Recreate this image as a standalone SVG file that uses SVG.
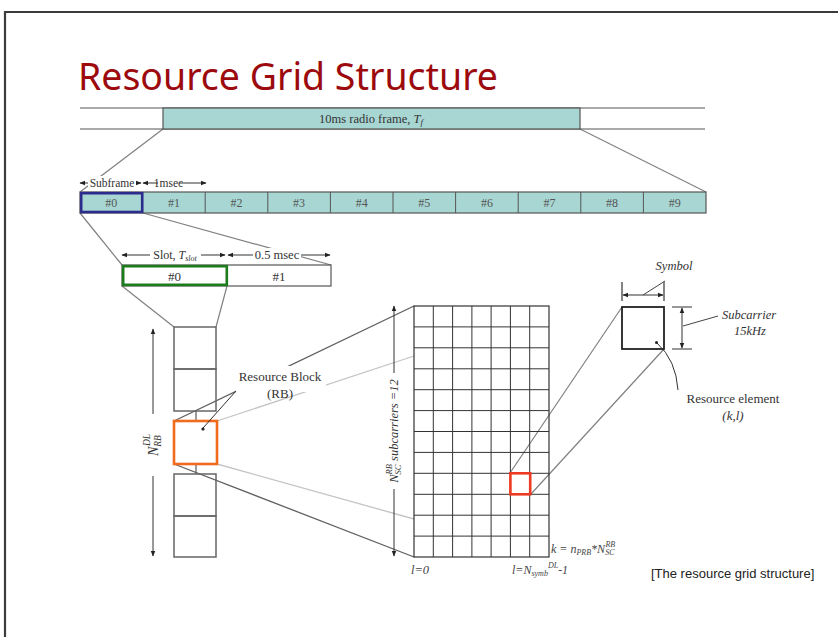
<svg xmlns="http://www.w3.org/2000/svg" width="838" height="637" viewBox="0 0 838 637">
  <style>
    .ser { font-family: "Liberation Serif", "Times New Roman", serif; }
    .it { font-style: italic; }
    .lbl { font-size: 12.5px; fill: #333; }
    .cell { font-size: 12px; fill: #555; text-anchor: middle; }
    .box { fill: none; stroke: #666; stroke-width: 1.5; }
    .con { fill: none; stroke: #808080; stroke-width: 1.2; }
    .conDark { fill: none; stroke: #606060; stroke-width: 1.3; }
    .conLight { fill: none; stroke: #c4c4c4; stroke-width: 1.3; }
    .dim { fill: none; stroke: #333; stroke-width: 1; }
    .tick { fill: none; stroke: #333; stroke-width: 1.2; }
  </style>
  <defs>
    <marker id="ah" viewBox="0 0 10 10" refX="9" refY="5" markerWidth="6" markerHeight="6" markerUnits="userSpaceOnUse" orient="auto-start-reverse">
      <path d="M0,1 L10,5 L0,9 Z" fill="#222"/>
    </marker>
  </defs>

  <rect width="838" height="637" fill="#fff"/>

  <!-- slide frame -->
  <path d="M5,640 L5,12 L840,12" fill="none" stroke="#3c3c3c" stroke-width="2.2"/>

  <!-- title -->
  <text x="78" y="90" font-family="'Noto Sans', 'Open Sans', sans-serif" font-size="39" fill="#9c0a0e" textLength="420" lengthAdjust="spacingAndGlyphs">Resource Grid Structure</text>

  <!-- connectors -->
  <g id="connectors">
    <line class="con" x1="163" y1="129" x2="80" y2="192"/>
    <line class="con" x1="580" y1="129" x2="706" y2="192"/>
    <line class="con" x1="80" y1="213" x2="122" y2="265"/>
    <line class="con" x1="143" y1="213" x2="331" y2="265"/>
    <line class="con" x1="122" y1="286" x2="174" y2="327"/>
    <line class="con" x1="227" y1="286" x2="216" y2="327"/>
    <line class="conDark" x1="174" y1="421" x2="414" y2="306"/>
    <line class="conLight" x1="217" y1="421" x2="414" y2="356"/>
    <line class="conDark" x1="174" y1="464" x2="414" y2="557"/>
    <line class="conLight" x1="217" y1="464" x2="414" y2="519"/>
    <line class="con" x1="510" y1="473" x2="622" y2="307"/>
    <line class="con" x1="531" y1="494" x2="664" y2="349"/>
  </g>

  <!-- radio frame -->
  <g id="radio-frame">
    <line x1="80" y1="108" x2="705" y2="108" stroke="#555" stroke-width="1.2"/>
    <line x1="80" y1="129" x2="705" y2="129" stroke="#555" stroke-width="1.2"/>
    <rect x="163" y="108" width="417" height="21" fill="#a8d6d3" stroke="#555" stroke-width="1.2"/>
    <text class="ser lbl" x="371" y="123" text-anchor="middle">10ms radio frame, <tspan class="it">T</tspan><tspan class="it" font-size="9" dy="2">f</tspan></text>
  </g>

  <!-- subframe dimension -->
  <g id="subframe-dim">
    <line class="dim" x1="80" y1="183" x2="141" y2="183" marker-start="url(#ah)" marker-end="url(#ah)"/>
    <line class="dim" x1="143" y1="183" x2="206" y2="183" marker-start="url(#ah)" marker-end="url(#ah)"/>
    <rect x="88" y="176" width="48" height="12" fill="#fff"/>
    <rect x="158" y="176" width="21" height="12" fill="#fff"/>
    <text class="ser" x="112" y="187" font-size="11.5" fill="#333" text-anchor="middle">Subframe</text>
    <text class="ser" x="168.5" y="187" font-size="11.5" fill="#333" text-anchor="middle">1msec</text>
  </g>

  <!-- subframes -->
  <g id="subframes">
    <rect x="80" y="192" width="626" height="21" fill="#a8d6d3" stroke="#555" stroke-width="1.2"/>
    <path d="M142.6,192V213 M205.2,192V213 M267.8,192V213 M330.4,192V213 M393,192V213 M455.6,192V213 M518.2,192V213 M580.8,192V213 M643.4,192V213" stroke="#555" stroke-width="1"/>
    <rect x="81.2" y="193.2" width="61" height="18.8" fill="none" stroke="#2c2c8c" stroke-width="2.6"/>
    <text class="ser cell" x="111.3" y="207">#0</text>
    <text class="ser cell" x="173.9" y="207">#1</text>
    <text class="ser cell" x="236.5" y="207">#2</text>
    <text class="ser cell" x="299.1" y="207">#3</text>
    <text class="ser cell" x="361.7" y="207">#4</text>
    <text class="ser cell" x="424.3" y="207">#5</text>
    <text class="ser cell" x="486.9" y="207">#6</text>
    <text class="ser cell" x="549.5" y="207">#7</text>
    <text class="ser cell" x="612.1" y="207">#8</text>
    <text class="ser cell" x="674.7" y="207">#9</text>
  </g>

  <!-- slot dimension -->
  <g id="slot-dim">
    <line class="dim" x1="122" y1="255" x2="225" y2="255" marker-start="url(#ah)" marker-end="url(#ah)"/>
    <line class="dim" x1="228" y1="255" x2="330" y2="255" marker-start="url(#ah)" marker-end="url(#ah)"/>
    <rect x="150" y="248" width="51" height="13" fill="#fff"/>
    <rect x="253" y="248" width="48" height="12" fill="#fff"/>
    <text class="ser" x="175" y="259" font-size="12" fill="#333" text-anchor="middle">Slot, <tspan class="it">T</tspan><tspan class="it" font-size="8" dy="2">slot</tspan></text>
    <text class="ser" x="277" y="259" font-size="12.5" fill="#333" text-anchor="middle">0.5 msec</text>
  </g>

  <!-- slots -->
  <g id="slots">
    <rect x="122" y="265" width="209" height="21" fill="#fff" stroke="#555" stroke-width="1.2"/>
    <line x1="227" y1="265" x2="227" y2="286" stroke="#555" stroke-width="1"/>
    <rect x="123.2" y="266.2" width="103.6" height="18.6" fill="none" stroke="#1c7c1c" stroke-width="2.6"/>
    <text class="ser" x="174.5" y="281" font-size="13" fill="#333" text-anchor="middle">#0</text>
    <text class="ser" x="279" y="281" font-size="13" fill="#333" text-anchor="middle">#1</text>
  </g>

  <!-- resource block column -->
  <g id="rb-column">
    <rect class="box" x="174" y="327" width="42" height="42"/>
    <rect class="box" x="174" y="369" width="42" height="42"/>
    <line x1="196" y1="411" x2="196" y2="421" stroke="#666" stroke-width="1.3"/>
    <line x1="196" y1="464" x2="196" y2="474" stroke="#666" stroke-width="1.3"/>
    <rect class="box" x="174" y="474" width="42" height="42"/>
    <rect class="box" x="174" y="516" width="42" height="41"/>
    <rect x="174" y="421" width="43" height="43" fill="none" stroke="#f26a1b" stroke-width="2.6"/>
  </g>

  <!-- N_RB^DL dimension -->
  <g id="nrb-dim">
    <line class="dim" x1="153" y1="329" x2="153" y2="556" marker-start="url(#ah)" marker-end="url(#ah)"/>
    <rect x="146" y="414" width="15" height="62" fill="#fff"/>
    <text class="ser it" transform="translate(158,445) rotate(-90)" font-size="14" fill="#333" text-anchor="middle">N<tspan font-size="9.5" dy="3">RB</tspan><tspan font-size="9.5" dx="-11" dy="-11">DL</tspan></text>
  </g>

  <!-- resource block label -->
  <g id="rb-label">
    <rect x="236" y="366" width="90" height="26" fill="#fff"/>
    <text class="ser" x="280" y="381" font-size="13" fill="#333" text-anchor="middle">Resource Block</text>
    <text class="ser" x="280" y="398" font-size="13" fill="#333" text-anchor="middle">(RB)</text>
    <line x1="236" y1="391" x2="203" y2="428" stroke="#333" stroke-width="1"/>
    <circle cx="203" cy="429" r="1.6" fill="#222"/>
  </g>

  <!-- resource grid -->
  <g id="resource-grid">
    <rect x="414" y="306" width="135" height="251" fill="none" stroke="#333" stroke-width="1.2"/>
    <path d="M433.3,306V557 M452.6,306V557 M471.9,306V557 M491.1,306V557 M510.4,306V557 M529.7,306V557
             M414,326.9H549 M414,347.8H549 M414,368.8H549 M414,389.7H549 M414,410.6H549 M414,431.5H549
             M414,452.4H549 M414,473.3H549 M414,494.3H549 M414,515.2H549 M414,536.1H549"
          stroke="#333" stroke-width="1" fill="none"/>
    <rect x="510.4" y="473.3" width="19.8" height="21" fill="none" stroke="#ee3a22" stroke-width="2.6"/>
  </g>

  <!-- N_SC^RB dimension -->
  <g id="nsc-dim">
    <line class="dim" x1="394" y1="306" x2="394" y2="556" marker-start="url(#ah)" marker-end="url(#ah)"/>
    <rect x="387" y="373" width="14" height="116" fill="#fff"/>
    <text class="ser it" transform="translate(398,431) rotate(-90)" font-size="12.5" fill="#333" text-anchor="middle">N<tspan font-size="8.5" dy="3">SC</tspan><tspan font-size="8.5" dx="-10" dy="-9">RB</tspan><tspan dy="6"> subcarriers =12</tspan></text>
  </g>

  <!-- grid axis labels -->
  <g id="grid-labels">
    <text class="ser it" x="420" y="574" font-size="12.5" fill="#444" text-anchor="middle">l=0</text>
    <text class="ser it" x="512" y="574" font-size="12" fill="#444">l=N<tspan font-size="8" dy="2">symb</tspan><tspan font-size="8" dy="-8">DL</tspan><tspan dy="6">-1</tspan></text>
    <text class="ser it" x="551" y="553" font-size="12" fill="#444">k = n<tspan font-size="8" dy="2">PRB</tspan><tspan dy="-2">*N</tspan><tspan font-size="8" dy="2">SC</tspan><tspan font-size="8" dx="-9" dy="-8">RB</tspan></text>
  </g>

  <!-- resource element detail -->
  <g id="resource-element">
    <rect x="622" y="307" width="42" height="42" fill="none" stroke="#222" stroke-width="1.8"/>
    <path class="tick" d="M622,282V301 M664,282V301"/>
    <line class="dim" x1="623" y1="295" x2="663" y2="295" marker-start="url(#ah)" marker-end="url(#ah)"/>
    <line x1="643" y1="295" x2="665" y2="281" stroke="#444" stroke-width="1"/>
    <text class="ser it" x="674" y="270" font-size="12.5" fill="#333" text-anchor="middle">Symbol</text>
    <path class="tick" d="M672,307H692 M672,349H692"/>
    <line class="dim" x1="682" y1="308" x2="682" y2="348" marker-start="url(#ah)" marker-end="url(#ah)"/>
    <line x1="683" y1="326" x2="718" y2="316" stroke="#444" stroke-width="1"/>
    <text class="ser it" x="749" y="319" font-size="12.5" fill="#333" text-anchor="middle">Subcarrier</text>
    <text class="ser it" x="750" y="335" font-size="12.5" fill="#333" text-anchor="middle">15kHz</text>
    <path d="M657,343 Q676,360 678,390" fill="none" stroke="#333" stroke-width="1"/>
    <circle cx="656.5" cy="342.5" r="1.5" fill="#222"/>
    <text class="ser" x="733" y="403" font-size="13" fill="#333" text-anchor="middle">Resource element</text>
    <text class="ser it" x="733" y="420" font-size="13" fill="#333" text-anchor="middle">(k,l)</text>
  </g>

  <!-- caption -->
  <text x="651" y="578" font-family="'Liberation Sans', Arial, sans-serif" font-size="13" fill="#222">[The resource grid structure]</text>
</svg>
